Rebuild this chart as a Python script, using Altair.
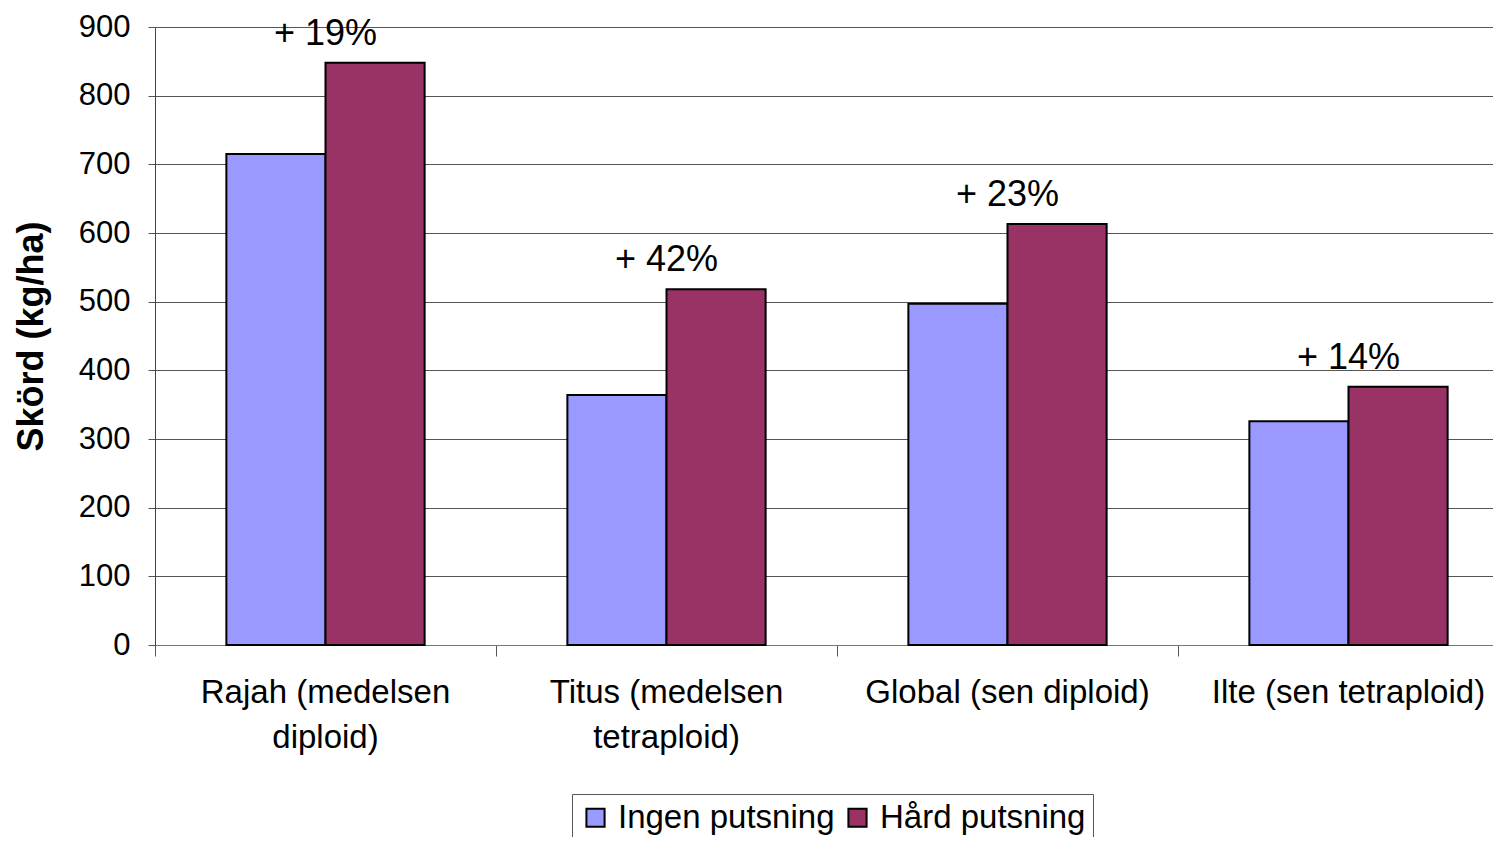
import altair as alt
import pandas as pd

categories = ["Rajah (medelsen|diploid)", "Titus (medelsen|tetraploid)",
              "Global (sen diploid)", "Ilte (sen tetraploid)"]
series = ["Ingen putsning", "Hård putsning"]
ingen = [715, 364, 497, 326]
hard = [848, 518, 613, 376]
pct_labels = ["+ 19%", "+ 42%", "+ 23%", "+ 14%"]
colors = ["#9999FF", "#993366"]
y_ticks = list(range(0, 901, 100))

rows = []
for c, a, b in zip(categories, ingen, hard):
    rows.append({"cat": c, "serie": series[0], "val": a})
    rows.append({"cat": c, "serie": series[1], "val": b})
df = pd.DataFrame(rows)
ann = pd.DataFrame({"cat": categories, "val": hard, "lab": pct_labels})

FONT = "Liberation Sans"

xscale = alt.Scale(domain=categories, range=[0, 1364], paddingInner=0, paddingOuter=0)
yscale = alt.Scale(domain=[0, 900], nice=False)

bars = alt.Chart(df).mark_bar(stroke="black", strokeWidth=2).encode(
    x=alt.X("cat:N", scale=xscale, sort=categories,
            axis=alt.Axis(title=None, labelAngle=0, bandPosition=0, grid=False,
                          tickSize=11, tickColor="#555", domainColor="#777",
                          labelFontSize=33, labelFont=FONT, labelColor="black",
                          labelPadding=20, labelLineHeight=45, labelLimit=0,
                          labelExpr="split(datum.label, '|')")),
    xOffset=alt.XOffset("serie:N", sort=series,
                        scale=alt.Scale(paddingInner=0, paddingOuter=0.72)),
    y=alt.Y("val:Q", scale=yscale,
            axis=alt.Axis(title="Skörd (kg/ha)", values=y_ticks, grid=True,
                          gridColor="#555", gridWidth=1, tickSize=7, tickColor="#555",
                          domainColor="#444", labelFontSize=31, labelFont=FONT,
                          labelColor="black", labelPadding=18,
                          titleFontSize=36, titleFont=FONT, titleFontWeight="bold",
                          titleColor="black", titlePadding=28)),
    color=alt.Color("serie:N", sort=series,
                    scale=alt.Scale(domain=series, range=colors),
                    legend=alt.Legend(title=None, orient="none", legendX=417, legendY=767,
                                      direction="horizontal", symbolType="square",
                                      symbolSize=330, symbolStrokeColor="black",
                                      symbolStrokeWidth=2, labelFontSize=33,
                                      labelFont=FONT, labelColor="black", labelLimit=0,
                                      strokeColor="#555", padding=7,
                                      columnPadding=6, labelOffset=6)),
)

text = alt.Chart(ann).mark_text(fontSize=36, font=FONT, color="black", dy=-29).encode(
    x=alt.X("cat:N", scale=xscale, sort=categories),
    y=alt.Y("val:Q", scale=yscale),
    text="lab:N",
)

chart = alt.layer(bars, text).properties(
    width=1338, height=618,
    autosize=alt.AutoSizeParams(type="none"),
    padding={"left": 147, "top": 19, "right": 0, "bottom": 192},
).configure_view(stroke=None)

chart.save("out.html", embed_options={"renderer": "svg", "actions": False})
